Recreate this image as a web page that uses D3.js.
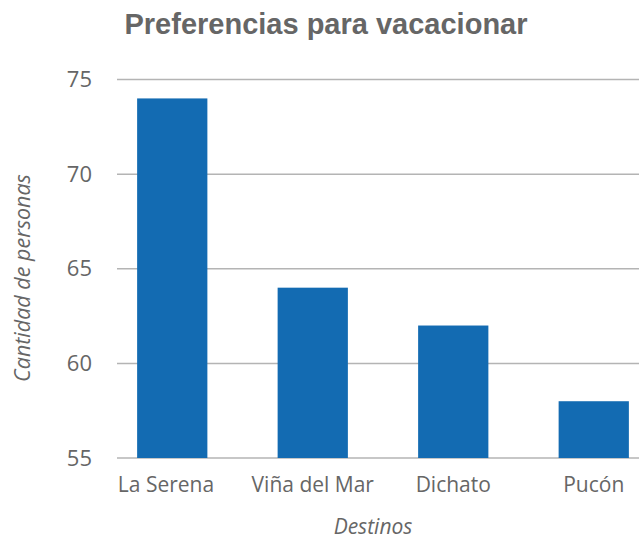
<!DOCTYPE html>
<html lang="es">
<head>
<meta charset="UTF-8">
<title>Preferencias para vacacionar</title>
<style>
    body { margin: 0; background: #fff; }
    svg { display: block; }
    .tick text { fill: #666; }
</style>
</head>
<body>
<svg id="chart" width="639" height="540"></svg>
<script src="https://d3js.org/d3.v7.min.js"></script>
<script>

var destinos = ["La Serena", "Viña del Mar", "Dichato", "Pucón"],
    personas = [74, 64, 62, 58],
    yTicks = [55, 60, 65, 70, 75];

var svg = d3.select("#chart"),
    width = +svg.attr("width"),
    height = +svg.attr("height"),
    labelFont = "'Open Sans', sans-serif";

var x = d3.scaleBand()
        .domain(destinos)
        .range([102, 664])
        .paddingInner(0.5)
        .paddingOuter(0.25),
    y = d3.scaleLinear()
        .domain([55, 75])
        .range([458, 79.5]);

// title
svg.append("text")
    .attr("x", 326)
    .attr("y", 34)
    .attr("text-anchor", "middle")
    .style("font-family", "'Liberation Sans', Arial, sans-serif")
    .style("font-weight", "bold")
    .style("font-size", "29px")
    .style("fill", "#666")
    .text("Preferencias para vacacionar");

// gridlines
svg.append("g")
    .selectAll("line")
    .data(yTicks)
    .enter()
    .append("line")
        .attr("x1", 117)
        .attr("x2", width)
        .attr("y1", d => y(d))
        .attr("y2", d => y(d))
        .attr("stroke", "#b4b4b4")
        .attr("stroke-width", 1.5);

// y axis labels
var yAxis = d3.axisLeft(y).tickValues(yTicks).tickSize(0).tickPadding(0);
svg.append("g")
    .attr("transform", "translate(92,0)")
    .call(yAxis)
    .call(g => g.select(".domain").remove())
    .selectAll("text")
        .style("font-family", labelFont)
        .style("font-size", "22px");

// bars
svg.append("g")
    .selectAll("rect")
    .data(destinos)
    .enter()
    .append("rect")
        .attr("x", d => x(d))
        .attr("width", x.bandwidth())
        .attr("y", (d, i) => y(personas[i]))
        .attr("height", (d, i) => y(55) - y(personas[i]))
        .attr("fill", "#136bb2");

// x axis labels
var xAxis = d3.axisBottom(x).tickSize(0).tickPadding(19);
svg.append("g")
    .attr("transform", "translate(0," + y(55) + ")")
    .call(xAxis)
    .call(g => g.select(".domain").remove())
    .selectAll("text")
        .attr("dx", (d, i) => i === 0 ? "-0.3em" : 0)
        .style("font-family", labelFont)
        .style("font-size", "21px");

// axis titles
svg.append("text")
    .attr("x", 373)
    .attr("y", 534)
    .attr("text-anchor", "middle")
    .style("font-family", labelFont)
    .style("font-style", "italic")
    .style("font-size", "21px")
    .style("fill", "#666")
    .text("Destinos");

svg.append("text")
    .attr("transform", "translate(30,278) rotate(-90)")
    .attr("text-anchor", "middle")
    .style("font-family", labelFont)
    .style("font-style", "italic")
    .style("font-size", "21.5px")
    .style("fill", "#666")
    .text("Cantidad de personas");

</script>
</body>
</html>
